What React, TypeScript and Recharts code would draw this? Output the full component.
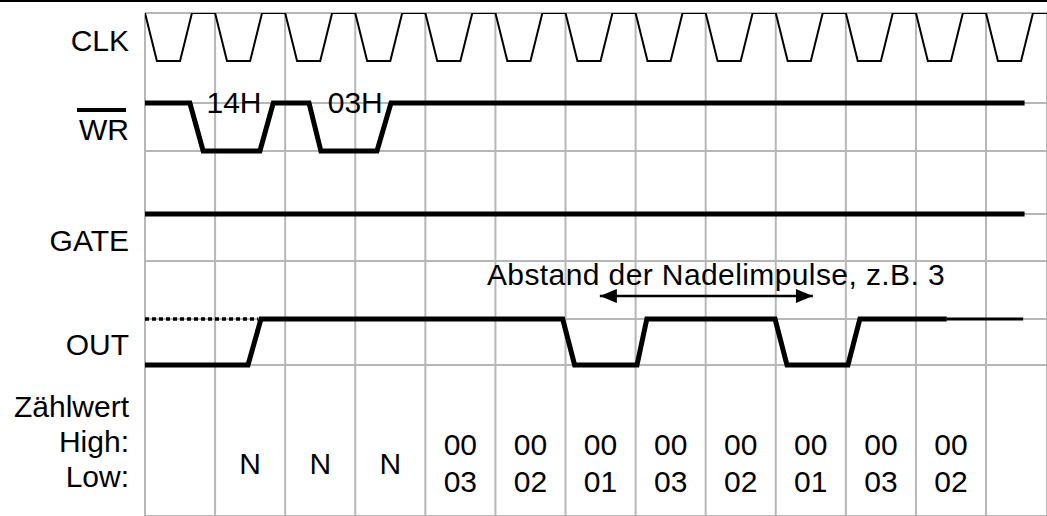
import React from 'react';
import { ComposedChart, Line, Scatter, XAxis, YAxis, CartesianGrid, ReferenceLine } from 'recharts';

// ---- data (time in clock periods, level 1 = high / 0 = low) ----
const clkWave: [number, number][] = [
  [0, 1], [0.17, 0], [0.5, 0], [0.67, 1],
  [1, 1], [1.17, 0], [1.5, 0], [1.67, 1],
  [2, 1], [2.17, 0], [2.5, 0], [2.67, 1],
  [3, 1], [3.17, 0], [3.5, 0], [3.67, 1],
  [4, 1], [4.17, 0], [4.5, 0], [4.67, 1],
  [5, 1], [5.17, 0], [5.5, 0], [5.67, 1],
  [6, 1], [6.17, 0], [6.5, 0], [6.67, 1],
  [7, 1], [7.17, 0], [7.5, 0], [7.67, 1],
  [8, 1], [8.17, 0], [8.5, 0], [8.67, 1],
  [9, 1], [9.17, 0], [9.5, 0], [9.67, 1],
  [10, 1], [10.17, 0], [10.5, 0], [10.67, 1],
  [11, 1], [11.17, 0], [11.5, 0], [11.67, 1],
  [12, 1], [12.17, 0], [12.5, 0], [12.67, 1], [12.87, 1],
];
const wrWave: [number, number][] = [
  [0, 1], [0.64, 1], [0.83, 0], [1.64, 0], [1.83, 1], [2.34, 1], [2.51, 0], [3.31, 0], [3.51, 1], [12.55, 1],
];
const gateWave: [number, number][] = [[0, 1], [12.55, 1]];
const outWave: [number, number][] = [
  [0, 0], [1.47, 0], [1.655, 1], [5.96, 1], [6.13, 0], [7.02, 0], [7.16, 1],
  [8.99, 1], [9.16, 0], [10.03, 0], [10.2, 1], [11.44, 1],
];
const outTail: [number, number][] = [[11.44, 1], [12.53, 1]];
const outUndefined: [number, number][] = [[0, 1], [1.61, 1]];

const signalLabels = ['CLK', 'WR', 'GATE', 'OUT', 'Zählwert', 'High:', 'Low:'];
const wrValueLabels = ['14H', '03H'];
const wrValueTimes = [1.27, 3.0];
const countCells = [1, 2, 3, 4, 5, 6, 7, 8, 9, 10, 11];
const countSingle = ['N', 'N', 'N', '', '', '', '', '', '', '', ''];
const countHigh = ['', '', '', '00', '00', '00', '00', '00', '00', '00', '00'];
const countLow = ['', '', '', '03', '02', '01', '03', '02', '01', '03', '02'];
const pulseNote = 'Abstand der Nadelimpulse, z.B. 3';
const pulseNoteStart = 4.879;
const pulseSpan = [6.49, 9.53];
const gridTimes = [0, 1, 2, 3, 4, 5, 6, 7, 8, 9, 10, 11, 12];

// ---- layout (vertical lane positions in chart units) ----
const X_DOMAIN: [number, number] = [0, 12.87];
const Y_DOMAIN: [number, number] = [-3.146, 7.333];
const LANES = {
  CLK: { low: 6.333, high: 7.333 },
  WR: { low: 4.458, high: 5.458 },
  GATE: { low: 3.146, high: 3.146 },
  OUT: { low: 0, high: 0.958 },
};
const GRID_LEVELS = [5.458, 4.458, 3.146, 2.167, 0.958, 0];
const LABEL_LEVELS = [6.542, 4.6875, 2.375, 0.208, -1.083, -1.8125, -2.542];
const TABLE_ROWS = { single: -2.271, high: -1.875, low: -2.646 };
const WR_VALUE_LEVEL = 5.26;
const NOTE_LEVEL = 1.667;
const ARROW_LEVEL = 1.4375;
const BORDER_LEVEL = 7.583;
const BORDER_X0 = -2.07;

const FONT = '"Liberation Sans", Arial, sans-serif';
const FS = 30;
const GRID_COLOR = '#b7b7b7';

const toPoints = (wave: [number, number][], lane: { low: number; high: number }) =>
  wave.map(([t, lvl]) => ({ t, y: lane.low + lvl * (lane.high - lane.low) }));

const tableData = (texts: string[], level: number) =>
  countCells
    .map((c, i) => ({ t: c + 0.5, y: level, label: texts[i] }))
    .filter((d) => d.label !== '');

const wrValueData = wrValueLabels.map((label, i) => ({ t: wrValueTimes[i], y: WR_VALUE_LEVEL, label }));
const noteData = [{ t: pulseNoteStart, y: NOTE_LEVEL, label: pulseNote }];
const arrowData = pulseSpan.map((t) => ({ t, y: ARROW_LEVEL }));

const TextShape = (anchor: 'start' | 'middle' | 'end', spacing = 0) => (p: any) => (
  <text
    x={p.cx}
    y={p.cy}
    textAnchor={anchor}
    fontFamily={FONT}
    fontSize={FS}
    letterSpacing={spacing}
    fill="#000"
  >
    {p.payload.label}
  </text>
);

const ArrowHead = (p: any) => {
  const { cx, cy, index } = p;
  const dir = index === 0 ? -1 : 1;
  const len = 17;
  const half = 7;
  return (
    <polygon
      key={`ah-${index}`}
      points={`${cx},${cy} ${cx - dir * len},${cy - half} ${cx - dir * len},${cy + half}`}
      fill="#000"
    />
  );
};

const LabelTick = (p: any) => {
  const { x, y, index } = p;
  const text = signalLabels[index];
  return (
    <g>
      <text x={x} y={y} textAnchor="end" fontFamily={FONT} fontSize={FS} fill="#000">
        {text}
      </text>
      {text === 'WR' && (
        <line x1={x - 52} x2={x - 3} y1={y - 30} y2={y - 30} stroke="#000" strokeWidth={4} />
      )}
    </g>
  );
};

export default function App() {
  const common = {
    type: 'linear' as const,
    dataKey: 'y',
    dot: false,
    activeDot: false,
    isAnimationActive: false,
    stroke: '#000',
    strokeLinejoin: 'miter' as const,
    strokeLinecap: 'butt' as const,
  };
  return (
    <div style={{ position: 'absolute', left: 0, top: 0, width: 1047, height: 516, background: '#fff' }}>
      <ComposedChart width={1047} height={516} margin={{ top: 13, right: 0, bottom: 0, left: 0 }}>
        <XAxis type="number" dataKey="t" domain={X_DOMAIN} ticks={gridTimes} interval={0} allowDataOverflow hide />
        <YAxis
          type="number"
          domain={Y_DOMAIN}
          allowDataOverflow
          width={145}
          ticks={LABEL_LEVELS}
          interval={0}
          axisLine={false}
          tickLine={false}
          tickSize={0}
          tickMargin={16}
          tick={<LabelTick />}
        />
        <YAxis
          yAxisId="grid"
          type="number"
          domain={Y_DOMAIN}
          allowDataOverflow
          ticks={GRID_LEVELS}
          interval={0}
          hide
        />
        <CartesianGrid yAxisId="grid" stroke={GRID_COLOR} strokeWidth={2} />
        <ReferenceLine
          segment={[{ x: BORDER_X0, y: BORDER_LEVEL }, { x: X_DOMAIN[1], y: BORDER_LEVEL }]}
          ifOverflow="visible"
          stroke="#000"
          strokeWidth={2}
        />
        <Line {...common} data={toPoints(clkWave, LANES.CLK)} strokeWidth={2} />
        <Line {...common} data={toPoints(wrWave, LANES.WR)} strokeWidth={5} />
        <Line {...common} data={toPoints(gateWave, LANES.GATE)} strokeWidth={5} />
        <Line {...common} data={toPoints(outUndefined, LANES.OUT)} strokeWidth={3.5} strokeDasharray="4 3" />
        <Line {...common} data={toPoints(outWave, LANES.OUT)} strokeWidth={5} />
        <Line {...common} data={toPoints(outTail, LANES.OUT)} strokeWidth={3} />
        <Line {...common} data={arrowData} strokeWidth={2.5} dot={<ArrowHead />} />
        <Scatter data={wrValueData} dataKey="y" isAnimationActive={false} shape={TextShape('middle')} />
        <Scatter data={noteData} dataKey="y" isAnimationActive={false} shape={TextShape('start', 0.4)} />
        <Scatter data={tableData(countSingle, TABLE_ROWS.single)} dataKey="y" isAnimationActive={false} shape={TextShape('middle')} />
        <Scatter data={tableData(countHigh, TABLE_ROWS.high)} dataKey="y" isAnimationActive={false} shape={TextShape('middle')} />
        <Scatter data={tableData(countLow, TABLE_ROWS.low)} dataKey="y" isAnimationActive={false} shape={TextShape('middle')} />
      </ComposedChart>
    </div>
  );
}
